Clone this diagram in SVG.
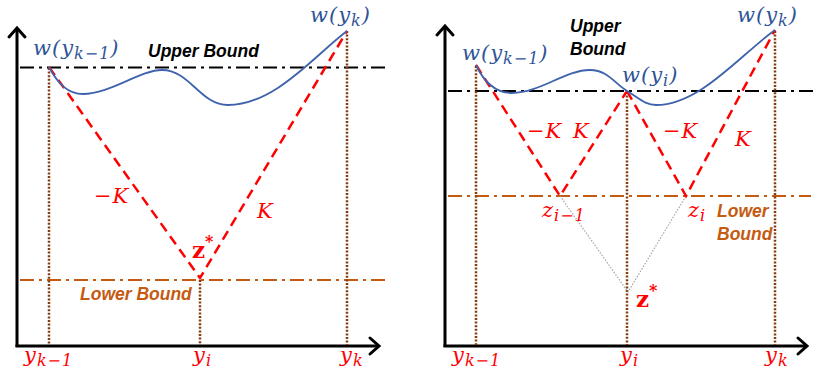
<svg xmlns="http://www.w3.org/2000/svg" width="830" height="374" viewBox="0 0 830 374">
<style>
.axis{stroke:#000;stroke-width:3;fill:none}
.arrow{stroke:#000;stroke-width:3;fill:none;stroke-linecap:round;stroke-linejoin:miter}
.ub{stroke:#000;stroke-width:2;stroke-dasharray:14 5 3 5;fill:none}
.lb{stroke:#C55A11;stroke-width:2.2;stroke-dasharray:14 5 3 5;fill:none}
.vdot{stroke:#843C0C;stroke-width:2.5;stroke-dasharray:2 1.6;fill:none}
.gdot{stroke:#A6A6A6;stroke-width:1.2;stroke-dasharray:1.5 1.5;fill:none}
.red{stroke:#FF0000;stroke-width:2.5;stroke-dasharray:10 6;fill:none}
.curve{stroke:#3E63AC;stroke-width:1.8;fill:none}
.math{font-family:"DejaVu Serif","Liberation Serif",serif;font-style:italic;font-size:21px;letter-spacing:1px}
.wl{fill:#2F5597}
.rl{fill:#FF0000}
.sub{font-size:16px}
.bnd{font-family:"Liberation Sans",Arial,sans-serif;font-style:italic;font-weight:bold;font-size:17.5px}
.zs{font-family:"DejaVu Serif","Liberation Serif",serif;font-weight:bold;font-size:23px;fill:#FF0000}
</style>
<g id="left-panel">
  <g id="left-axes">
    <line class="axis" x1="17" y1="28" x2="17" y2="347"/>
    <line class="axis" x1="15.5" y1="346" x2="378" y2="346"/>
    <polyline class="arrow" points="9,37 17,28 25,37"/>
    <polyline class="arrow" points="370,338 379,346 370,354"/>
  </g>
  <g id="left-bounds">
    <line class="ub" x1="20" y1="67.5" x2="388" y2="67.5"/>
    <line class="lb" x1="20" y1="280" x2="388" y2="280"/>
  </g>
  <g id="left-verticals">
    <line class="vdot" x1="49" y1="68" x2="49" y2="345"/>
    <line class="vdot" x1="200" y1="280" x2="200" y2="345"/>
    <line class="vdot" x1="347" y1="31" x2="347" y2="345"/>
  </g>
  <g id="left-cone">
    <polyline class="red" points="49,67 200,278 347,31"/>
  </g>
  <path id="left-curve" class="curve" d="M49,67 C58,84 68,94 83,94 C110,94 140,70 162,70 C190,70 200,105 228,105 C275,105 315,55 347,31"/>
  <g id="left-labels">
    <text class="math wl" x="33" y="55">w(y<tspan class="sub" dy="4">k−1</tspan><tspan dy="-4">)</tspan></text>
    <text class="math wl" x="310" y="22">w(y<tspan class="sub" dy="4">k</tspan><tspan dy="-4">)</tspan></text>
    <text class="bnd" x="148" y="57" fill="#000">Upper Bound</text>
    <text class="bnd" x="80" y="300" fill="#C55A11">Lower Bound</text>
    <text class="math rl" x="94" y="203">−K</text>
    <text class="math rl" x="257" y="218">K</text>
    <text class="zs" x="192" y="258">z<tspan font-size="16" dy="-11">*</tspan></text>
    <text class="math rl" x="24" y="362">y<tspan class="sub" dy="4">k−1</tspan></text>
    <text class="math rl" x="193" y="362">y<tspan class="sub" dy="4">i</tspan></text>
    <text class="math rl" x="340" y="362">y<tspan class="sub" dy="4">k</tspan></text>
  </g>
</g>
<g id="right-panel">
  <g id="right-axes">
    <line class="axis" x1="445" y1="26" x2="445" y2="347"/>
    <line class="axis" x1="443.5" y1="346" x2="806" y2="346"/>
    <polyline class="arrow" points="437,35 445,26 453,35"/>
    <polyline class="arrow" points="798,338 807,346 798,354"/>
  </g>
  <g id="right-bounds">
    <line class="ub" x1="448" y1="91" x2="815" y2="91"/>
    <line class="lb" x1="448" y1="196" x2="811" y2="196"/>
  </g>
  <g id="right-verticals">
    <line class="vdot" x1="476" y1="66" x2="476" y2="345"/>
    <line class="vdot" x1="627" y1="92" x2="627" y2="345"/>
    <line class="vdot" x1="775" y1="31" x2="775" y2="345"/>
  </g>
  <g id="right-extension">
    <polyline class="gdot" points="560,196 628,292 686,196"/>
  </g>
  <g id="right-cones">
    <polyline class="red" points="476,65 560,196 627,91"/>
    <polyline class="red" points="627,91 686,196 775,30"/>
  </g>
  <path id="right-curve" class="curve" d="M476,65 C484,82 496,93 512,93 C540,93 565,70 590,70 C608,70 615,84 627,91 C639,98 645,105 656,105 C700,105 740,55 775,30"/>
  <g id="right-labels">
    <text class="math wl" x="462" y="60">w(y<tspan class="sub" dy="4">k−1</tspan><tspan dy="-4">)</tspan></text>
    <text class="math wl" x="622" y="82">w(y<tspan class="sub" dy="4">i</tspan><tspan dy="-4">)</tspan></text>
    <text class="math wl" x="737" y="22">w(y<tspan class="sub" dy="4">k</tspan><tspan dy="-4">)</tspan></text>
    <text class="bnd" x="570" y="32" fill="#000">Upper</text>
    <text class="bnd" x="570" y="55" fill="#000">Bound</text>
    <text class="bnd" x="717" y="217" fill="#C55A11">Lower</text>
    <text class="bnd" x="717" y="240" fill="#C55A11">Bound</text>
    <text class="math rl" x="527" y="138">−K</text>
    <text class="math rl" x="573" y="138">K</text>
    <text class="math rl" x="663" y="138">−K</text>
    <text class="math rl" x="735" y="146">K</text>
    <text class="math rl" x="542" y="217">z<tspan class="sub" dy="4">i−1</tspan></text>
    <text class="math rl" x="688" y="217">z<tspan class="sub" dy="4">i</tspan></text>
    <text class="zs" x="636" y="307">z<tspan font-size="16" dy="-11">*</tspan></text>
    <text class="math rl" x="452" y="362">y<tspan class="sub" dy="4">k−1</tspan></text>
    <text class="math rl" x="620" y="362">y<tspan class="sub" dy="4">i</tspan></text>
    <text class="math rl" x="765" y="362">y<tspan class="sub" dy="4">k</tspan></text>
  </g>
</g>
</svg>
